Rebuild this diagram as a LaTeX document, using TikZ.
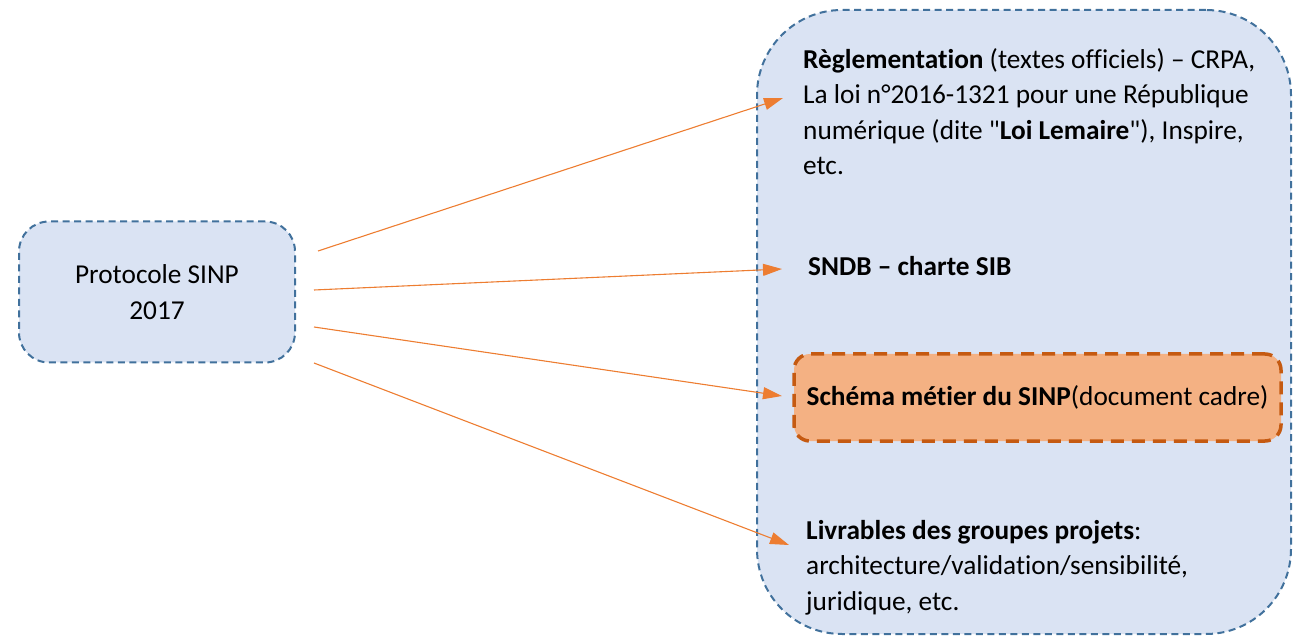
\documentclass[tikz,border=0pt]{standalone}
\usepackage{fontspec}
\setmainfont{Carlito}[Ligatures={NoCommon}]
\usetikzlibrary{arrows.meta}
\definecolor{fondbleu}{HTML}{DAE3F3}
\definecolor{bordbleu}{HTML}{41719C}
\definecolor{fondorange}{HTML}{F4B183}
\definecolor{bordorange}{HTML}{C55A11}
\definecolor{fleche}{HTML}{ED7D31}

\begin{document}
\begin{tikzpicture}[x=1pt,y=-1pt,
  every node/.style={font=\fontsize{27.3}{35.5}\selectfont, inner sep=0pt},
  boite/.style={draw=bordbleu, fill=fondbleu, line width=2pt, dash pattern=on 7pt off 4.5pt},
  cadre/.style={draw=bordorange, fill=fondorange, line width=3.5pt, dash pattern=on 13pt off 8pt, rounded corners=16pt},
  lien/.style={draw=fleche, line width=1.1pt, -{Triangle[length=19pt,width=12pt]}}]
\useasboundingbox (0,0) rectangle (1299,636);
\node[boite, rounded corners=30pt, minimum width=276pt, minimum height=141pt, align=center] (proto) at (157,292) {Protocole SINP\\2017};
\node[boite, rounded corners=85pt, minimum width=534pt, minimum height=624pt] (fond) at (1024,322) {};
\node[cadre, minimum width=487pt, minimum height=87pt] (schema) at (1037.5,397.5) {\textbf{Schéma métier du SINP}(document cadre)};
% derniere ligne sur la base
\node[anchor=base west, align=left] (regl) at (803,175) {\textbf{Règlementation} (textes officiels) – CRPA,\\La loi n°2016-1321 pour une République\\numérique (dite \textquotedbl\textbf{Loi Lemaire}\textquotedbl), Inspire,\\etc.};
\node[anchor=base west] (sndb) at (808,276) {\textbf{SNDB – charte SIB}};
\node[anchor=base west, align=left] (livr) at (806,610) {\textbf{Livrables des groupes projets}:\\architecture/validation/sensibilité,\\juridique, etc.};
\coordinate (d1) at (318,251);
\coordinate (d2) at (314,290);
\coordinate (d3) at (314,327);
\coordinate (d4) at (314,363);
\coordinate (f1) at (783,98);
\coordinate (f2) at (782,269);
\coordinate (f3) at (782,396);
\coordinate (f4) at (789,545);
\draw[lien] (d1) -- (f1);
\draw[lien] (d2) -- (f2);
\draw[lien] (d3) -- (f3);
\draw[lien] (d4) -- (f4);
\end{tikzpicture}
\end{document}
